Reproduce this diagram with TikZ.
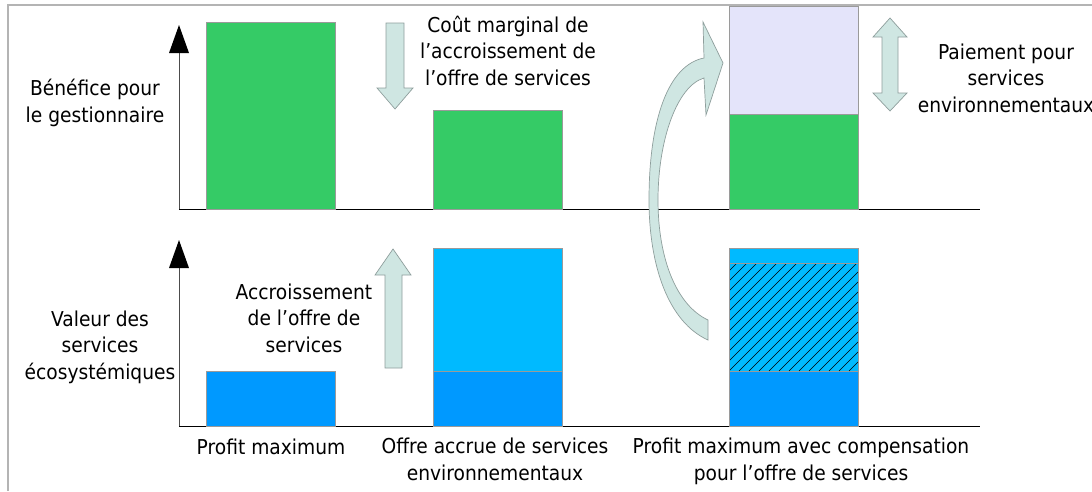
\documentclass[tikz,border=0pt]{standalone}
\usepackage{fontspec}
\setmainfont{DejaVu Sans}[FakeStretch=0.91]
\definecolor{green1}{HTML}{35CB66}
\definecolor{lav}{HTML}{E4E4FA}
\definecolor{blue1}{HTML}{0099FF}
\definecolor{blue2}{HTML}{00BAFF}
\definecolor{afill}{HTML}{CFE6E2}
\definecolor{aline}{HTML}{8E9E9C}
\definecolor{barline}{HTML}{9A9A9A}
\definecolor{frame}{HTML}{B4B4B4}
\tikzset{
  bar/.style={draw=barline, line width=0.9pt},
  ashape/.style={fill=afill, draw=aline, line width=0.7pt, line join=miter},
  lbl/.style={align=center, inner sep=0pt, anchor=base, font=\fontsize{20.5}{26.5}\selectfont},
  axis/.style={line width=0.9pt},
  axhead/.style={fill=black}
}
\begin{document}
\begin{tikzpicture}[x=1pt, y=-1pt]
\useasboundingbox (0,0) rectangle (1092,491);
% frame
\draw[frame, line width=1.4pt] (8,491) -- (8,5) -- (1092,5);

% ---------- top panel ----------
\draw[axis, draw=black!70] (179,209) -- (179,50);
\fill[axhead] (179,25) -- (189,53) -- (169,53) -- cycle;
\draw[axis] (179,209) -- (980,209);
\filldraw[bar, fill=green1] (206,22) rectangle (335,209);
\filldraw[bar, fill=green1] (433,110) rectangle (562,209);
\filldraw[bar, fill=lav] (729,6) rectangle (858,114);
\filldraw[bar, fill=green1] (729,114) rectangle (858,209);

% ---------- bottom panel ----------
\draw[axis, draw=black!70] (179,426) -- (179,265);
\fill[axhead] (179,240) -- (189,268) -- (169,268) -- cycle;
\draw[axis] (179,426) -- (980,426);
\filldraw[bar, fill=blue1] (206,371) rectangle (335,426);
\filldraw[bar, fill=blue2] (433,248) rectangle (562,371);
\filldraw[bar, fill=blue1] (433,371) rectangle (562,426);
\filldraw[bar, fill=blue2] (729,248) rectangle (858,371);
\filldraw[bar, fill=blue1] (729,371) rectangle (858,426);
\begin{scope}
  \clip (729,263) rectangle (858,371);
  \foreach \i in {-12,...,14} \draw[line width=0.6pt] (729+\i*10,371) -- ++(108,-108);
\end{scope}
\draw[barline, line width=0.9pt] (729,263) -- (858,263);
\draw[bar] (729,248) rectangle (858,426);

% ---------- block arrows ----------
\draw[ashape] (386,23) -- (404,23) -- (404,88) -- (413,88) -- (395,109) -- (377,88) -- (386,88) -- cycle;
\draw[ashape] (385,368) -- (402,368) -- (402,275) -- (411,275) -- (393,249) -- (375,275) -- (385,275) -- cycle;
\draw[ashape] (890,18) -- (907,37) -- (898,37) -- (898,93) -- (907,93) -- (890,111) -- (873,93) -- (882,93) -- (882,37) -- (873,37) -- cycle;
% curved arrow
\draw[ashape] (708,340) .. controls (668,322) and (649,265) .. (649,200)
  .. controls (649,120) and (668,65) .. (704,58)
  -- (703,22) -- (723,63) -- (706,115) -- (704,78)
  .. controls (677,86) and (658,140) .. (658,200)
  .. controls (658,258) and (676,305) .. (708,320) -- cycle;

% ---------- labels (anchor = baseline of last line) ----------
\node[lbl] (benef) at (95,122) {Bénéfice pour\\le gestionnaire};
\node[lbl] (valeur) at (100,379) {Valeur des\\services\\écosystémiques};
\node[lbl] (accr) at (304,352) {Accroissement\\de l’offre de\\services};
\node[lbl] (cout) at (508,85) {Coût marginal de\\l’accroissement de\\l’offre de services};
\node[lbl] (paie) at (1006,112) {Paiement pour\\services\\environnementaux};
\node[lbl] (pm) at (271,454) {Profit maximum};
\node[lbl] (offre) at (495,480) {Offre accrue de services\\environnementaux};
\node[lbl] (comp) at (801,480) {Profit maximum avec compensation\\pour l’offre de services};
\end{tikzpicture}
\end{document}
